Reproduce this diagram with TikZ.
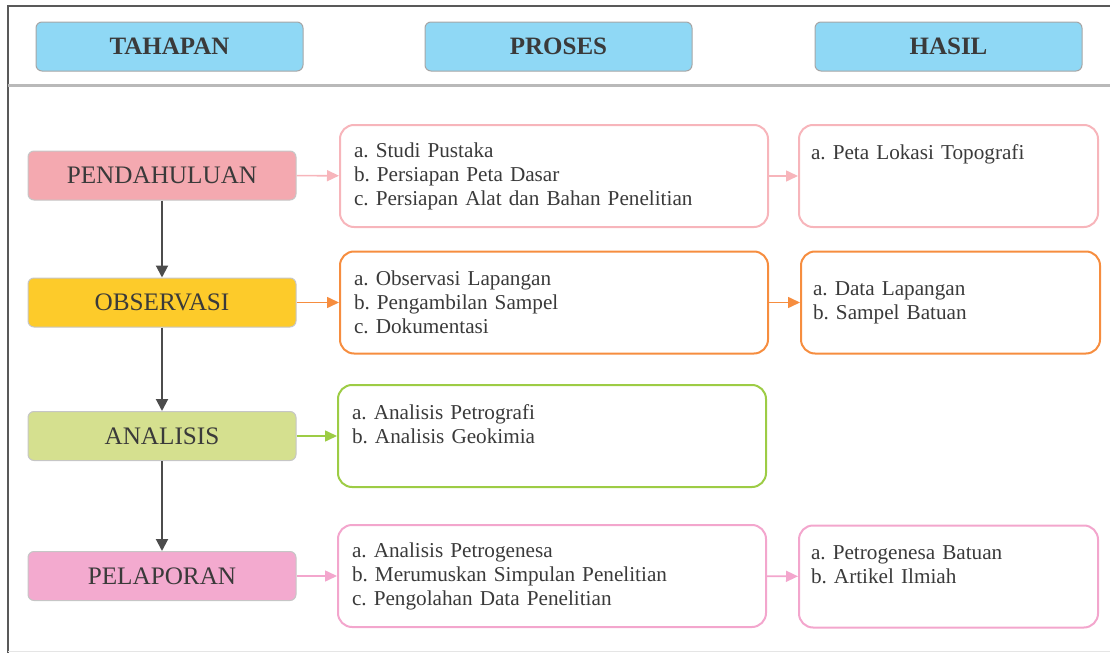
\documentclass[tikz,border=0pt]{standalone}
\usepackage{fontspec}
\setmainfont{Liberation Serif}
\frenchspacing
\usetikzlibrary{arrows.meta}
\definecolor{hdrblue}{HTML}{8FD8F5}
\definecolor{txtgray}{HTML}{3A3A3A}
\definecolor{pendfill}{HTML}{F4A9B0}
\definecolor{obsfill}{HTML}{FDCB2A}
\definecolor{analfill}{HTML}{D5E08F}
\definecolor{pelfill}{HTML}{F3AACF}
\definecolor{pendline}{HTML}{F7B5BB}
\definecolor{obsline}{HTML}{F68D3F}
\definecolor{analline}{HTML}{9DCC45}
\definecolor{pelline}{HTML}{F3A6CD}
\begin{document}
\begin{tikzpicture}[x=0.5pt, y=-0.5pt,
  every node/.style={text=txtgray},
  head/.style={draw=gray!70, fill=hdrblue, rounded corners=3pt, line width=0.5pt,
    minimum width=133.5pt, minimum height=24.5pt, font=\fontsize{12.5}{14}\selectfont\bfseries},
  stage/.style={draw=gray!45, rounded corners=3pt, line width=0.5pt,
    minimum width=134pt, minimum height=24.5pt, font=\fontsize{12.6}{15}\selectfont},
  proc/.style={draw, rounded corners=7pt, line width=1pt, text width=200pt, inner xsep=7pt,
    minimum height=51pt, align=left, font=\fontsize{10.6}{12}\selectfont},
  res/.style={proc, text width=137.5pt, inner xsep=6pt},
  link/.style={-{Triangle[length=6pt,width=5.5pt]}, line width=0.8pt},
  down/.style={-{Triangle[length=6pt,width=6pt]}, line width=1pt, draw=black!70}]
\useasboundingbox (0,0) rectangle (1110,653);
% frame and header line
\draw[black!65, line width=1pt] (1110,6) -- (8,6) -- (8,653);
\draw[gray!55, line width=1.5pt] (8,85) -- (1110,85);
\draw[gray!20, line width=0.5pt] (8,651) -- (1110,651);
% column headers
\node[head] (tahapan) at (169.5,46.5) {TAHAPAN};
\node[head] (proses) at (558.5,46.5) {PROSES};
\node[head] (hasil) at (948.5,46.5) {HASIL};
% stages
\node[stage, fill=pendfill] (pend) at (162,175.5) {PENDAHULUAN};
\node[stage, fill=obsfill] (obs) at (162,302.5) {OBSERVASI};
\node[stage, fill=analfill] (anal) at (162,436) {ANALISIS};
\node[stage, fill=pelfill] (pel) at (162,576) {PELAPORAN};
% processes
\node[proc, draw=pendline] (pendP) at (554,176) {a. Studi Pustaka\\ b. Persiapan Peta Dasar\\ c. Persiapan Alat dan Bahan Penelitian};
\node[proc, draw=obsline] (obsP) at (554,302.5) {a. Observasi Lapangan\\ b. Pengambilan Sampel\\ c. Dokumentasi};
\node[proc, draw=analline] (analP) at (552,436) {a. Analisis Petrografi\\ b. Analisis Geokimia\\ ~};
\node[proc, draw=pelline] (pelP) at (552,576) {a. Analisis Petrogenesa\\ b. Merumuskan Simpulan Penelitian\\ c. Pengolahan Data Penelitian};
% results
\node[res, draw=pendline] (pendH) at (948.5,176) {a. Peta Lokasi Topografi\\ ~\\ ~};
\node[res, draw=obsline] (obsH) at (950.5,302.5) {a. Data Lapangan\\ b. Sampel Batuan};
\node[res, draw=pelline] (pelH) at (948.5,576.5) {a. Petrogenesa Batuan\\ b. Artikel Ilmiah\\ ~};
% connectors
\draw[down] (pend) -- (obs);
\draw[down] (obs) -- (anal);
\draw[down] (anal) -- (pel);
\draw[link, pendline] (pend) -- (pendP);
\draw[link, obsline] (obs) -- (obsP);
\draw[link, analline] (anal) -- (analP);
\draw[link, pelline] (pel) -- (pelP);
\draw[link, pendline] (pendP) -- (pendH);
\draw[link, obsline] (obsP) -- (obsH);
\draw[link, pelline] (pelP) -- (pelH);
\end{tikzpicture}
\end{document}
